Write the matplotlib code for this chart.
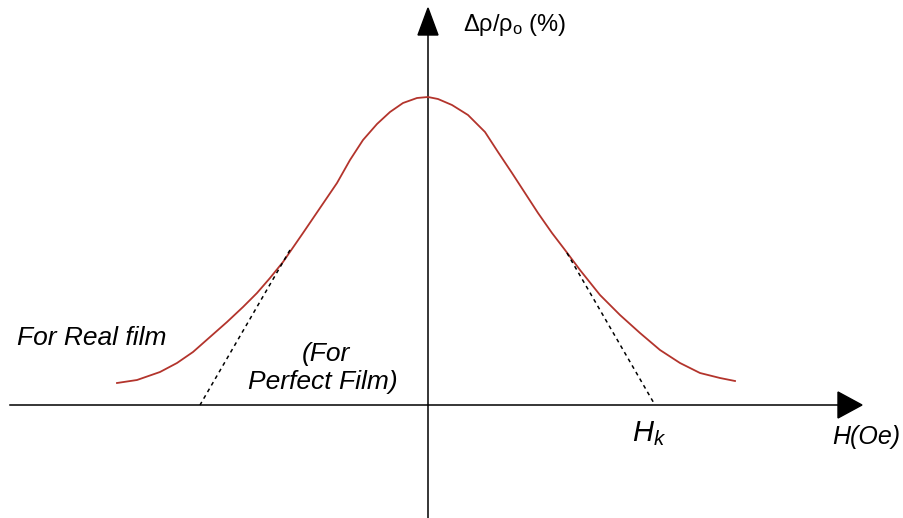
import numpy as np
import matplotlib
matplotlib.use('Agg')
import matplotlib.pyplot as plt

plt.rcParams['mathtext.fontset'] = 'custom'
plt.rcParams['mathtext.rm'] = 'Liberation Sans'
plt.rcParams['mathtext.it'] = 'Liberation Sans:italic'

# curva de magnetorresistencia (pelicula real), H en unidades arbitrarias
H_real = np.array([-311, -291, -268, -251, -235, -218, -201, -185, -171, -158,
                   -145, -125, -108, -91, -78, -65, -51, -38, -25, -11, 0,
                   10, 24, 40, 57, 70, 84, 97, 110, 124, 137, 152, 172, 192,
                   212, 232, 252, 272, 292, 307])
rho_real = np.array([22, 25, 33, 42, 53, 68, 83, 98, 112, 127,
                     143, 172, 197, 222, 245, 265, 281, 293, 302, 307, 308,
                     306, 300, 290, 273, 253, 232, 212, 192, 172, 155, 135, 110, 90,
                     72, 55, 42, 32, 27, 24])

# rectas tangentes (pelicula perfecta), corte con el eje en -Hk y Hk
H_izq = np.array([-138, -228])
rho_izq = np.array([155, 0])
H_der = np.array([139, 227])
rho_der = np.array([152, 0])

fig = plt.figure(figsize=(9.04, 5.18), dpi=100)
ax = fig.add_axes([0, 0, 1, 1])
ax.set_xlim(-428, 476)
ax.set_ylim(-113, 405)
ax.axis('off')

# ejes con flechas
ax.plot([-418, 415], [0, 0], color='black', lw=1.1)
ax.plot([0, 0], [-113, 375], color='black', lw=1.1)
ax.fill([410, 434, 410], [13, 0, -13], color='black')
ax.fill([-10, 0, 10], [370, 397, 370], color='black')

ax.plot(H_real, rho_real, color='#b3342c', lw=1.3)
ax.plot(H_izq, rho_izq, color='black', lw=1.1, ls=(0, (2.5, 2.5)))
ax.plot(H_der, rho_der, color='black', lw=1.1, ls=(0, (2.5, 2.5)))

fuente = ['Liberation Sans', 'DejaVu Sans']
ax.text(35, 380, r'$\mathrm{\Delta}$ρ/ρ$_\mathrm{o}$ (%)', fontsize=17,
        family=fuente, va='center', ha='left')
ax.text(472, -32, 'H(Oe)', fontsize=18, style='italic', family=fuente,
        ha='right', va='center')
ax.text(204, -29, r'$H_k$', fontsize=21, family=fuente, ha='left', va='center')
ax.text(-411, 67, 'For Real film', fontsize=19, style='italic', family=fuente,
        ha='left', va='center')
ax.text(-102, 51, '(For', fontsize=19, style='italic', family=fuente,
        ha='center', va='center')
ax.text(-105, 23, 'Perfect Film)', fontsize=19, style='italic', family=fuente,
        ha='center', va='center')

plt.savefig('out.png', dpi=100)
